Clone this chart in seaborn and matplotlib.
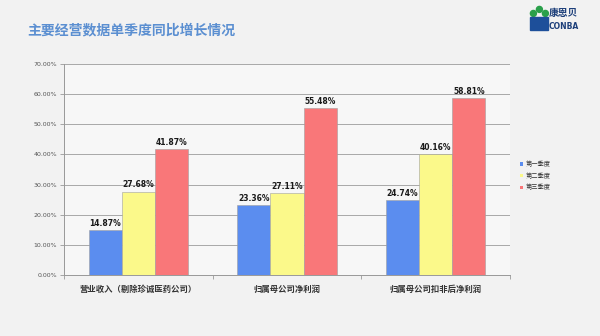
import matplotlib
matplotlib.use("Agg")
import matplotlib.pyplot as plt
import seaborn as sns
import pandas as pd
from matplotlib.patches import Ellipse, Rectangle

categories = ["营业收入（剔除珍诚医药公司）", "归属母公司净利润", "归属母公司扣非后净利润"]
series = ["第一季度", "第二季度", "第三季度"]
q1 = [14.87, 23.36, 24.74]
q2 = [27.68, 27.11, 40.16]
q3 = [41.87, 55.48, 58.81]
yticks = [0, 10, 20, 30, 40, 50, 60, 70]
colors = ["#5b8def", "#fbf98a", "#f97779"]

sns.set_theme(style="white")
plt.rcParams['font.family'] = ['Noto Sans CJK SC', 'DejaVu Sans']

rows = []
for s, vals in zip(series, [q1, q2, q3]):
    for c, v in zip(categories, vals):
        rows.append({"cat": c, "series": s, "val": v})
df = pd.DataFrame(rows)

fig = plt.figure(figsize=(6, 3.36), dpi=100, facecolor="#f2f2f2")
ax = fig.add_axes([0.1067, 0.1815, 0.7433, 0.628])
ax.set_facecolor("#f7f7f7")

sns.barplot(data=df, x="cat", y="val", hue="series", palette=colors, saturation=1,
            width=0.67, edgecolor="#a0a0a0", linewidth=0.4, ax=ax, legend=True, zorder=3)

for cont in ax.containers:
    ax.bar_label(cont, labels=[f"{b.get_height():.2f}%" for b in cont],
                 padding=1.5, fontsize=5.5, fontweight="bold", color="#1a1a1a",
                 family=['DejaVu Sans'])

ax.set_ylim(0, 70)
ax.set_xlim(-0.5, 2.5)
ax.set_yticks(yticks)
ax.set_yticklabels([f"{t:.2f}%" for t in yticks], fontsize=4.5, color="#555555",
                   family=['DejaVu Sans'])
ax.yaxis.grid(True, color="#a8a8a8", linewidth=0.7, zorder=0)
ax.set_axisbelow(True)
ax.tick_params(axis="y", length=3, width=0.6, color="#999999", pad=2, left=True)
ax.set_xticks([0, 1, 2])
ax.set_xticklabels(categories, fontsize=6, color="#333333", fontweight="bold")
ax.tick_params(axis="x", length=0, pad=7)
ax.set_xticks([-0.5, 0.5, 1.5, 2.5], minor=True)
ax.tick_params(axis="x", which="minor", length=3, width=0.6, color="#999999", bottom=True)
ax.set_xlabel("")
ax.set_ylabel("")
for sp in ["top", "right"]:
    ax.spines[sp].set_visible(False)
for sp in ["left", "bottom"]:
    ax.spines[sp].set_color("#999999")
    ax.spines[sp].set_linewidth(0.7)

leg = ax.legend(loc="center left", bbox_to_anchor=(1.01, 0.47), frameon=False,
                fontsize=4.5, handlelength=0.5, handleheight=0.5, handletextpad=0.4,
                labelspacing=0.6)
for t in leg.get_texts():
    t.set_color("#333333")
for h in leg.legend_handles:
    h.set_linewidth(0)

fig.text(0.045, 0.91, "主要经营数据单季度同比增长情况", fontsize=10, fontweight="bold",
         color="#5b8fd1", va="center", ha="left")

# logo
fig.text(0.915, 0.962, "康恩贝", fontsize=7, fontweight="bold", color="#1d3f7a", va="center", ha="left")
fig.text(0.915, 0.922, "CONBA", fontsize=5.5, fontweight="bold", color="#1d3f7a", va="center", ha="left",
         family=['DejaVu Sans'])
for (cx, cy) in [(0.889, 0.96), (0.899, 0.972), (0.909, 0.96)]:
    fig.patches.append(Ellipse((cx, cy), 0.010, 0.0179, transform=fig.transFigure, color="#2aa04a"))
fig.patches.append(Rectangle((0.884, 0.912), 0.030, 0.036, transform=fig.transFigure,
                             color="#1d4f9a"))

fig.savefig("out.png", dpi=100, facecolor=fig.get_facecolor())
